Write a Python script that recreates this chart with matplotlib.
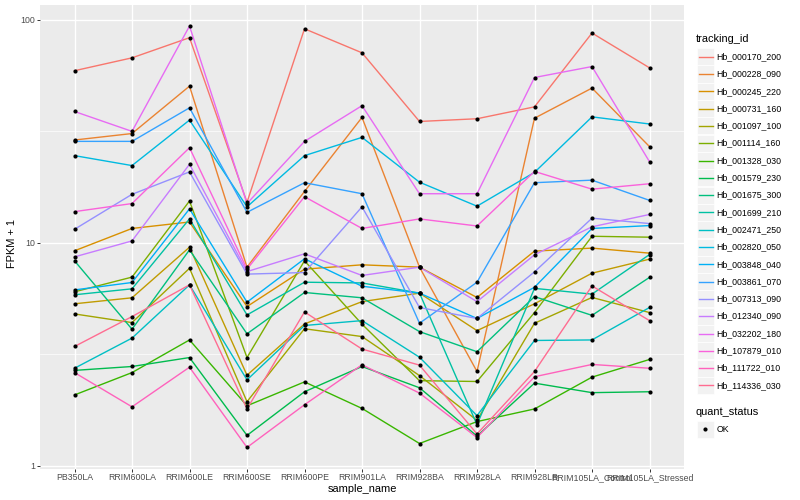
import matplotlib
matplotlib.use("Agg")
import matplotlib.pyplot as plt
from matplotlib.lines import Line2D
from matplotlib.patches import Rectangle
from matplotlib.ticker import NullFormatter
import numpy as np

plt.rcParams['font.family'] = ['Liberation Sans', 'DejaVu Sans']

samples = ["PB350LA", "RRIM600LA", "RRIM600LE", "RRIM600SE", "RRIM600PE",
           "RRIM901LA", "RRIM928BA", "RRIM928LA", "RRIM928LB",
           "RRIM105LA_Control", "RRIM105LA_Stressed"]

tracking_ids = ["Hb_000170_200", "Hb_000228_090", "Hb_000245_220", "Hb_000731_160",
                "Hb_001097_100", "Hb_001114_160", "Hb_001328_030", "Hb_001579_230",
                "Hb_001675_300", "Hb_001699_210", "Hb_002471_250", "Hb_002820_050",
                "Hb_003848_040", "Hb_003861_070", "Hb_007313_090", "Hb_012340_090",
                "Hb_032202_180", "Hb_107879_010", "Hb_111722_010", "Hb_114336_030"]

# FPKM + 1 per sample
Hb_000170_200 = [59.1, 67.5, 83.1, 15.2, 91.1, 71.1, 35.0, 36.0, 40.7, 87.2, 60.9]
Hb_000228_090 = [28.9, 30.9, 50.4, 7.78, 17.0, 36.5, 7.78, 2.65, 36.2, 49.4, 27.0]
Hb_000245_220 = [9.21, 11.6, 12.4, 5.18, 7.62, 7.97, 7.78, 5.69, 9.18, 9.47, 8.99]
Hb_000731_160 = [5.33, 5.67, 9.56, 2.55, 4.33, 5.45, 5.95, 4.04, 5.33, 7.31, 8.45]
Hb_001097_100 = [4.80, 4.39, 7.69, 1.94, 4.12, 3.80, 2.54, 1.60, 4.36, 5.69, 4.87]
Hb_001114_160 = [6.03, 7.02, 15.4, 3.06, 8.31, 4.32, 2.41, 2.39, 4.87, 10.7, 10.6]
Hb_001328_030 = [2.08, 2.62, 3.67, 1.86, 2.38, 1.81, 1.26, 1.58, 1.80, 2.50, 3.00]
Hb_001579_230 = [2.68, 2.79, 3.06, 1.37, 2.15, 2.79, 2.24, 1.36, 2.35, 2.13, 2.15]
Hb_001675_300 = [8.31, 4.10, 9.30, 3.91, 5.99, 5.67, 4.00, 3.25, 5.74, 4.73, 7.00]
Hb_001699_210 = [5.85, 6.22, 12.8, 4.75, 6.66, 6.61, 5.95, 1.53, 6.25, 5.89, 8.86]
Hb_002471_250 = [2.74, 3.74, 6.48, 2.43, 4.26, 4.48, 3.07, 1.68, 3.65, 3.67, 5.13]
Hb_002820_050 = [24.6, 22.2, 35.5, 14.5, 24.6, 29.7, 18.7, 14.6, 20.7, 36.7, 34.1]
Hb_003848_040 = [6.15, 6.64, 14.2, 5.42, 8.48, 6.39, 5.95, 4.58, 6.32, 11.6, 11.95]
Hb_003861_070 = [28.5, 28.5, 40.3, 13.7, 18.6, 16.6, 4.36, 6.66, 18.6, 19.1, 15.5]
Hb_007313_090 = [11.5, 16.5, 20.8, 7.24, 7.36, 14.5, 5.13, 4.58, 7.41, 12.9, 12.2]
Hb_012340_090 = [8.65, 10.2, 22.5, 7.43, 8.93, 7.14, 7.78, 5.45, 8.84, 11.8, 13.4]
Hb_032202_180 = [38.8, 31.6, 93.7, 15.0, 28.5, 41.2, 16.6, 16.6, 55.1, 61.7, 23.1]
Hb_107879_010 = [13.8, 15.0, 26.7, 7.62, 16.1, 11.6, 12.8, 11.9, 20.9, 17.4, 18.4]
Hb_111722_010 = [2.62, 1.84, 2.77, 1.21, 1.88, 2.84, 2.12, 1.34, 2.51, 2.85, 2.74]
Hb_114336_030 = [3.43, 4.67, 6.48, 1.80, 4.90, 3.34, 2.83, 1.39, 2.65, 6.41, 4.48]

series = [Hb_000170_200, Hb_000228_090, Hb_000245_220, Hb_000731_160, Hb_001097_100,
          Hb_001114_160, Hb_001328_030, Hb_001579_230, Hb_001675_300, Hb_001699_210,
          Hb_002471_250, Hb_002820_050, Hb_003848_040, Hb_003861_070, Hb_007313_090,
          Hb_012340_090, Hb_032202_180, Hb_107879_010, Hb_111722_010, Hb_114336_030]

colors = ["#F8766D", "#EA8331", "#D89000", "#C09B00", "#A3A500", "#7CAE00", "#39B600",
          "#00BB4E", "#00BF7D", "#00C1A3", "#00BFC4", "#00BAE0", "#00B0F6", "#35A2FF",
          "#9590FF", "#C77CFF", "#E76BF3", "#FA62DB", "#FF62BC", "#FF6C91"]

W, H = 800, 500
fig = plt.figure(figsize=(8, 5), dpi=100)

def fx(px):
    return px / W

def fy(py):
    return 1 - py / H

ax = fig.add_axes([fx(40), fy(468.5), fx(684) - fx(40), fy(5) - fy(468.5)])
ax.set_facecolor("#EBEBEB")
for s in ax.spines.values():
    s.set_visible(False)

x = np.arange(len(samples))
for vals, c in zip(series, colors):
    ax.plot(x, vals, color=c, lw=1.0, zorder=2)
for vals in series:
    ax.plot(x, vals, "o", color="black", ms=3.0, mew=0, zorder=3)

ax.set_yscale("log")
allv = np.log10(np.concatenate([np.array(v) for v in series]))
lo, hi = allv.min(), allv.max()
pad = 0.05 * (hi - lo)
ax.set_ylim(10 ** (lo - pad), 10 ** (hi + pad))
ax.set_xlim(-0.6, len(samples) - 0.4)

ax.set_yticks([1, 10, 100])
ax.set_yticklabels(["1", "10", "100"])
ax.set_yticks([10 ** 0.5, 10 ** 1.5], minor=True)
ax.yaxis.set_minor_formatter(NullFormatter())
ax.set_xticks(x)
ax.set_xticklabels(samples)

ax.set_axisbelow(True)
ax.grid(which="major", color="white", lw=1.0)
ax.grid(which="minor", axis="y", color="white", lw=0.5)
ax.tick_params(which="major", length=2.0, width=0.7, color="#333333",
               labelsize=6.3, labelcolor="#4D4D4D", pad=1.5)
ax.tick_params(which="minor", length=0)

fig.text(fx(362), fy(489), "sample_name", ha="center", va="center", fontsize=7.9)
fig.text(fx(12), fy(243), "FPKM + 1", ha="center", va="center", rotation=90, fontsize=7.9)

# legend
fig.text(fx(696), fy(39), "tracking_id", ha="left", va="center", fontsize=7.9)
for i, (name, c) in enumerate(zip(tracking_ids, colors)):
    yc = 56.7 + 17.3 * i
    fig.add_artist(Rectangle((fx(697), fy(yc + 8.5)), fx(17), 17 / H,
                             transform=fig.transFigure, facecolor="#F2F2F2", edgecolor="white", lw=0.5))
    fig.add_artist(Line2D([fx(698.5), fx(712.5)], [fy(yc), fy(yc)],
                          transform=fig.transFigure, color=c, lw=1.0))
    fig.text(fx(716.5), fy(yc), name, ha="left", va="center", fontsize=6.3)

fig.text(fx(696), fy(412), "quant_status", ha="left", va="center", fontsize=7.9)
fig.add_artist(Rectangle((fx(697), fy(429 + 8.5)), fx(17), 17 / H,
                         transform=fig.transFigure, facecolor="#F2F2F2", edgecolor="white", lw=0.5))
fig.add_artist(Line2D([fx(705)], [fy(429)], transform=fig.transFigure,
                      marker="o", color="black", ms=3.0, mew=0, lw=0))
fig.text(fx(716.5), fy(429), "OK", ha="left", va="center", fontsize=6.3)

fig.savefig("out.png", dpi=100)
